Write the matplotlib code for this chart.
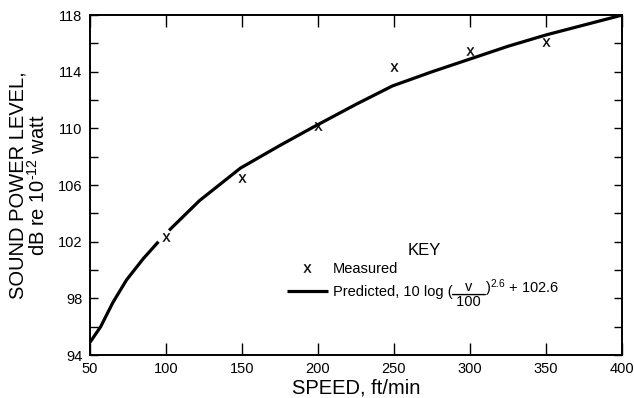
import matplotlib
matplotlib.use("Agg")
import matplotlib.pyplot as plt
from matplotlib.text import Annotation
import numpy as np

plt.rcParams['font.family'] = ['Liberation Sans', 'DejaVu Sans']
plt.rcParams['mathtext.fontset'] = 'custom'
plt.rcParams['mathtext.rm'] = 'Liberation Sans'
plt.rcParams['mathtext.it'] = 'Liberation Sans'

# measured points (speed ft/min, dB)
meas_speed = [100, 150, 200, 250, 300, 350]
meas_level = [102.3, 106.5, 110.2, 114.35, 115.45, 116.1]

# predicted curve (nan = gap around the 100 marker)
pred_speed = [50, 57, 65, 74, 85, 95, np.nan, 102, 122, 149, 175, 197,
              225, 249, 275, 300, 325, 350, 375, 400]
pred_level = [94.9, 96.0, 97.7, 99.3, 100.8, 102.0, np.nan, 102.8, 104.9, 107.2,
              108.8, 110.1, 111.7, 113.0, 114.0, 114.9, 115.8, 116.6, 117.3, 118.0]

xticks = [50, 100, 150, 200, 250, 300, 350, 400]
yticks = [94, 98, 102, 106, 110, 114, 118]

fig = plt.figure(figsize=(6.34, 3.98), dpi=100)
ax = fig.add_axes([0.142, 0.108, 0.839, 0.854])

pred, = ax.plot(pred_speed, pred_level, color='black', lw=2.3, solid_capstyle='butt')
meas, = ax.plot(meas_speed, meas_level, ls='none', marker=r'$\mathrm{x}$',
                ms=6, mew=0.2, color='black')

ax.set_xlim(50, 400)
ax.set_ylim(94, 118)
ax.set_xticks(xticks)
ax.set_yticks(yticks)
ax.set_yticks(np.arange(94, 119, 2), minor=True)
ax.tick_params(axis='x', which='major', direction='in', length=8.5, width=1,
               top=True, labelsize=10.5, pad=5)
ax.tick_params(axis='y', which='both', direction='in', length=6, width=1,
               right=True, labelsize=10.5, pad=5.5)
for s in ax.spines.values():
    s.set_linewidth(1.4)

ax.set_xlabel('SPEED, ft/min', fontsize=14.5, labelpad=2)
ax.set_ylabel('SOUND POWER LEVEL,\ndB re 10$^{\\text{-12}}$ watt', fontsize=14.5,
              linespacing=1.0)
ax.yaxis.set_label_coords(-0.077, 0.5)

# key
fig.text(424 / 634, 1 - 250 / 398, 'KEY', ha='center', va='center', fontsize=12)
leg = ax.legend([meas, pred], ['Measured', 'Predicted, 10 log ('],
                fontsize=10.5, frameon=False,
                loc='upper left', bbox_to_anchor=(0.441, 0.36),
                bbox_transform=fig.transFigure, borderpad=0,
                handlelength=2.8, handletextpad=0.35, labelspacing=0.65, numpoints=1)
fig.canvas.draw()
ptxt = leg.get_texts()[1]

# the v/100 fraction and the rest of the formula
den = Annotation(' 100 ', xy=(1, 0.5), xycoords=ptxt, xytext=(0, -1.5),
                 textcoords='offset points', ha='left', va='top', fontsize=10.5)
fig.add_artist(den)
bar = Annotation('', xy=(1, 1), xycoords=den, xytext=(0, 1), textcoords=den,
                 arrowprops=dict(arrowstyle='-', shrinkA=0, shrinkB=0, lw=1.0))
fig.add_artist(bar)
num = Annotation('v', xy=(0.5, 1), xycoords=den, xytext=(0, 0.5),
                 textcoords='offset points', ha='center', va='bottom', fontsize=10.5)
fig.add_artist(num)
tail = Annotation(r')$^{2.6}$ + 102.6', xy=(1, 0), xycoords=(den, ptxt),
                  ha='left', va='bottom', fontsize=10.5)
fig.add_artist(tail)

fig.savefig('out.png', dpi=100)
